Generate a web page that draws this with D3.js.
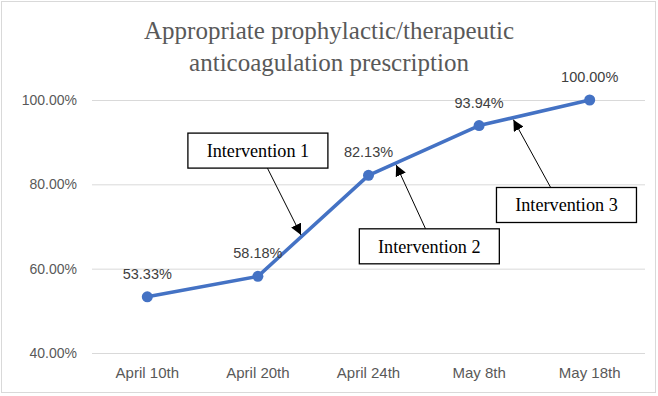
<!DOCTYPE html>
<html>
<head>
<meta charset="utf-8">
<script src="https://cdn.jsdelivr.net/npm/d3@7"></script>
<style>
  html, body { margin: 0; padding: 0; background: #fff; }
</style>
</head>
<body>
<div id="chart"></div>
<script>
const dates = ["April 10th", "April 20th", "April 24th", "May 8th", "May 18th"];
const rates = [53.33, 58.18, 82.13, 93.94, 100.00];
const yTicks = [40, 60, 80, 100];
const titleLines = ["Appropriate prophylactic/therapeutic", "anticoagulation prescription"];

// annotation boxes, placed in data space (category index, percent)
const notes = ["Intervention 1", "Intervention 2", "Intervention 3"];
const noteBoxIdx = [1.0, 2.55, 3.79];
const noteBoxVal = [88.0, 65.3, 75.1];
const noteFromIdx = [1.086, 2.516, 3.647];
const noteTipIdx = [1.39, 2.25, 3.31];

const width = 658, height = 396;
const margin = { left: 92, right: 13, top: 100, bottom: 43 };
const sans = "'Liberation Sans', Arial, sans-serif";
const serif = "'Liberation Serif', 'Times New Roman', serif";

const svg = d3.select("#chart").append("svg")
  .attr("width", width)
  .attr("height", height);

svg.append("rect")
  .attr("x", 1.5).attr("y", 1.5)
  .attr("width", width - 4).attr("height", height - 5)
  .attr("fill", "#fff")
  .attr("stroke", "#d9d9d9");

const x = d3.scaleBand()
  .domain(dates)
  .range([margin.left, width - margin.right]);

const xi = d3.scaleLinear()
  .domain([0, dates.length - 1])
  .range([x(dates[0]) + x.bandwidth() / 2, x(dates[dates.length - 1]) + x.bandwidth() / 2]);

const y = d3.scaleLinear()
  .domain([40, 100])
  .range([height - margin.bottom, margin.top]);

// title
svg.append("text")
  .attr("text-anchor", "middle")
  .style("font-family", serif)
  .style("font-size", "25px")
  .style("fill", "#595959")
  .selectAll("tspan")
  .data(titleLines)
  .join("tspan")
  .attr("x", 329)
  .attr("y", (d, i) => 39 + i * 32)
  .text(d => d);

// gridlines + y labels
const yAxis = svg.append("g")
  .attr("transform", `translate(${margin.left},0)`)
  .call(d3.axisLeft(y)
    .tickValues(yTicks)
    .tickSize(-(width - margin.left - margin.right))
    .tickPadding(15)
    .tickFormat(d => d.toFixed(2) + "%"));
yAxis.select(".domain").remove();
yAxis.selectAll(".tick line").attr("stroke", "#d9d9d9");
yAxis.selectAll(".tick text")
  .style("font-family", sans)
  .style("font-size", "14px")
  .style("fill", "#595959");

// x labels
const xAxis = svg.append("g")
  .attr("transform", `translate(0,${height - margin.bottom})`)
  .call(d3.axisBottom(x).tickSize(0).tickPadding(14));
xAxis.select(".domain").remove();
xAxis.selectAll(".tick text")
  .style("font-family", sans)
  .style("font-size", "15px")
  .style("fill", "#595959");

// line
const line = d3.line()
  .x((d, i) => xi(i))
  .y(d => y(d));

svg.append("path")
  .datum(rates)
  .attr("fill", "none")
  .attr("stroke", "#4472c4")
  .attr("stroke-width", 3.5)
  .attr("stroke-linejoin", "round")
  .attr("d", line);

svg.selectAll("circle.pt")
  .data(rates)
  .join("circle")
  .attr("class", "pt")
  .attr("cx", (d, i) => xi(i))
  .attr("cy", d => y(d))
  .attr("r", 5.5)
  .attr("fill", "#4472c4");

svg.selectAll("text.lbl")
  .data(rates)
  .join("text")
  .attr("class", "lbl")
  .attr("x", (d, i) => xi(i))
  .attr("y", d => y(d) - 18)
  .attr("text-anchor", "middle")
  .style("font-family", sans)
  .style("font-size", "14.5px")
  .style("fill", "#404040")
  .text(d => d.toFixed(2) + "%");

// annotations
svg.append("defs").append("marker")
  .attr("id", "arrow")
  .attr("viewBox", "0 0 10 10")
  .attr("refX", 10).attr("refY", 5)
  .attr("markerWidth", 11).attr("markerHeight", 11)
  .attr("markerUnits", "userSpaceOnUse")
  .attr("orient", "auto")
  .append("path")
  .attr("d", "M0,0L10,5L0,10Z")
  .attr("fill", "#000");

const rateAt = t => {
  const i = Math.min(Math.floor(t), rates.length - 2);
  return rates[i] + (t - i) * (rates[i + 1] - rates[i]);
};

const boxW = 140, boxH = 35;
notes.forEach((n, k) => {
  const cx = xi(noteBoxIdx[k]), cy = y(noteBoxVal[k]);
  const tipY = y(rateAt(noteTipIdx[k]));
  const fromY = tipY < cy ? cy - boxH / 2 : cy + boxH / 2;
  svg.append("line")
    .attr("x1", xi(noteFromIdx[k])).attr("y1", fromY)
    .attr("x2", xi(noteTipIdx[k])).attr("y2", tipY + (tipY < cy ? 2 : -2))
    .attr("stroke", "#000")
    .attr("stroke-width", 1)
    .attr("marker-end", "url(#arrow)");
  svg.append("rect")
    .attr("x", cx - boxW / 2).attr("y", cy - boxH / 2)
    .attr("width", boxW).attr("height", boxH)
    .attr("fill", "#fff")
    .attr("stroke", "#000")
    .attr("stroke-width", 1.3);
  svg.append("text")
    .attr("x", cx).attr("y", cy + 6.5)
    .attr("text-anchor", "middle")
    .style("font-family", serif)
    .style("font-size", "18.2px")
    .style("fill", "#000")
    .text(n);
});
</script>
</body>
</html>
